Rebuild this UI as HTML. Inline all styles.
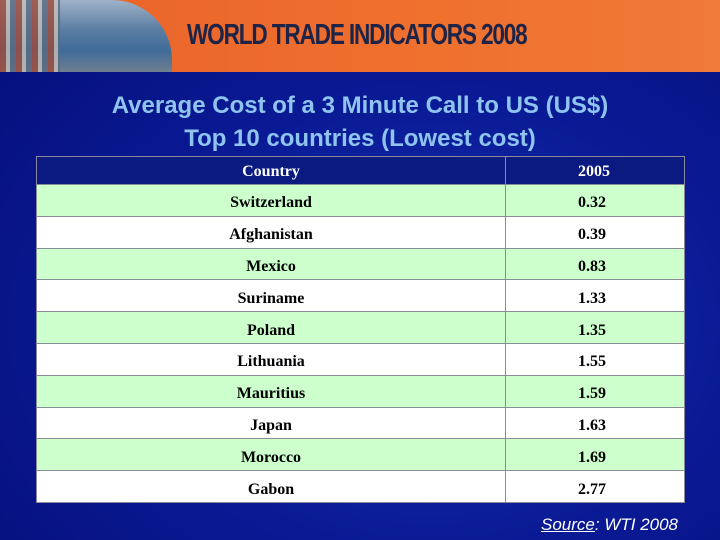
<!DOCTYPE html>
<html><head><meta charset="utf-8"><style>
body{margin:0;width:720px;height:540px;overflow:hidden;font-family:"Liberation Sans",sans-serif;}
#slide{position:relative;width:720px;height:540px;background:radial-gradient(ellipse at 60% 60%,#1a2fb0 0%,#0a1a95 50%,#050e78 100%);}
#banner{position:absolute;left:0;top:0;width:720px;height:72px;background:linear-gradient(90deg,#e8622a,#f0702e 60%,#f07a38);}
#photo{position:absolute;left:0;top:0;width:172px;height:72px;background:linear-gradient(180deg,#9fb2c8 0%,#5c7fa4 40%,#3f6b99 70%,#6f7f90 100%);border-radius:0 60px 0 0;}
#photo:after{content:"";position:absolute;left:0;top:0;width:60px;height:72px;background:repeating-linear-gradient(90deg,#a04a3a 0 6px,#c6c0b8 6px 10px,#5a6a80 10px 16px);opacity:.8}
#btitle{position:absolute;left:187px;top:19px;font-size:29px;font-weight:bold;color:#1d2447;letter-spacing:-1.5px;transform:scaleX(.78);transform-origin:left;white-space:nowrap;}
.t{position:absolute;left:0;width:720px;text-align:center;color:#8ec4ee;font-size:24px;font-weight:bold;}
table{position:absolute;left:36px;top:156px;width:649px;border-collapse:collapse;font-family:"Liberation Serif",serif;font-weight:bold;font-size:16px;}
td{border:1px solid #8a8a9a;height:24.8px;padding:6px 0 0 0;text-align:center;line-height:18px;}
td.v{text-align:left;padding-left:72px;width:106px;}
tr.h td{background:#0a1a80;color:#fff;height:24px;padding-top:3px;}
tr.g td{background:#ccffcc;color:#000}
tr.w td{background:#fff;color:#000}
#src{position:absolute;left:541px;top:515px;color:#fff;font-style:italic;font-size:17px;}
</style></head><body>
<div id="slide">
<div id="banner"><div id="photo"></div><div id="btitle">WORLD TRADE INDICATORS 2008</div></div>
<div class="t" style="top:92px">Average Cost of a 3 Minute Call to US (US$)</div>
<div class="t" style="top:125px">Top 10 countries (Lowest cost)</div>
<table><tbody id="tb">
<tr class="h"><td>Country</td><td class="v">2005</td></tr>
</tbody></table>
<div id="src"><u>Source</u>: WTI 2008</div>
</div>
<script>
const countries=["Switzerland","Afghanistan","Mexico","Suriname","Poland","Lithuania","Mauritius","Japan","Morocco","Gabon"];
const values=["0.32","0.39","0.83","1.33","1.35","1.55","1.59","1.63","1.69","2.77"];
const tb=document.getElementById('tb');
countries.forEach((c,i)=>{
const tr=document.createElement('tr');tr.className=i%2?'w':'g';


const a=document.createElement('td');a.textContent=c;


const b=document.createElement('td');b.className='v';b.textContent=values[i];


tr.appendChild(a);tr.appendChild(b);tb.appendChild(tr);});
</script>
</body></html>
